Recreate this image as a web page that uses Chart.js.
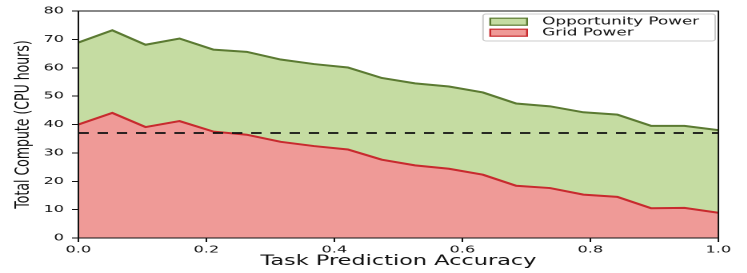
<!DOCTYPE html>
<html>
<head>
<meta charset="utf-8">
<script src="https://cdn.jsdelivr.net/npm/chart.js@4.4.1/dist/chart.umd.min.js"></script>
<style>
  html, body { margin: 0; padding: 0; background: #fff; overflow: hidden; }
  /* the reference is drawn narrow and stretched sideways, so do the same */
  #wrap { position: absolute; left: 0; top: 0; width: 467px; height: 273px; transform: scaleX(1.6); transform-origin: 0 0; }
</style>
</head>
<body>
<div id="wrap"><canvas id="computeChart"></canvas></div>
<script>
// DATA
const accuracy = [0, 0.053, 0.105, 0.158, 0.211, 0.263, 0.316, 0.368, 0.421, 0.474,
  0.526, 0.579, 0.632, 0.684, 0.737, 0.789, 0.842, 0.895, 0.947, 1.0];
const totalCompute = [68.9, 73.2, 68.1, 70.3, 66.4, 65.6, 62.9, 61.3, 60.1, 56.4,
  54.5, 53.4, 51.3, 47.4, 46.4, 44.3, 43.5, 39.5, 39.5, 38.0];
const gridPower = [40.0, 44.1, 39.1, 41.2, 37.5, 36.4, 33.9, 32.4, 31.2, 27.6,
  25.6, 24.4, 22.3, 18.4, 17.6, 15.3, 14.5, 10.5, 10.6, 8.9];
const baselineX = [0, 1];
const baselineY = [37, 37];
const xTicks = [0, 0.2, 0.4, 0.6, 0.8, 1.0];
const yTicks = [0, 10, 20, 30, 40, 50, 60, 70, 80];

Chart.defaults.font.family = "'DejaVu Sans', sans-serif";
Chart.defaults.color = "#111";

const toPoints = (xs, ys) => xs.map((x, i) => ({ x: x, y: ys[i] }));

// frame round the plot area
const frame = {
  id: "frame",
  afterDatasetsDraw(chart) {
    const { ctx, chartArea: a } = chart;
    ctx.save();
    ctx.strokeStyle = "#111";
    ctx.lineWidth = 1;
    ctx.strokeRect(a.left, a.top, a.right - a.left, a.bottom - a.top);
    ctx.restore();
  },
};

// boxed legend in the top right corner
const boxLegend = {
  id: "boxLegend",
  afterDraw(chart) {
    const { ctx, chartArea } = chart;
    const items = chart.data.datasets.filter((ds) => ds.fill !== false);
    ctx.save();
    ctx.font = "10.5px 'DejaVu Sans'";
    const textW = Math.max(...items.map((ds) => ctx.measureText(ds.label).width));
    const w = 37 + textW + 10;
    const h = 27;
    const x = chartArea.right - 2 - w;
    const y = chartArea.top + 3;
    ctx.beginPath();
    ctx.roundRect(x, y, w, h, 2);
    ctx.fillStyle = "rgba(255,255,255,0.85)";
    ctx.fill();
    ctx.strokeStyle = "#cccccc";
    ctx.lineWidth = 1;
    ctx.stroke();
    items.forEach((ds, i) => {
      const cy = y + 7.7 + i * 11;
      ctx.fillStyle = ds.backgroundColor;
      ctx.fillRect(x + 4.5, cy - 3.5, 23, 7);
      ctx.strokeStyle = ds.borderColor;
      ctx.lineWidth = 1.2;
      ctx.strokeRect(x + 4.5, cy - 3.5, 23, 7);
      ctx.fillStyle = "#111";
      ctx.textBaseline = "middle";
      ctx.fillText(ds.label, x + 37, cy);
    });
    ctx.restore();
  },
};

new Chart(document.getElementById("computeChart"), {
  type: "line",
  data: {
    datasets: [
      {
        label: "Baseline",
        data: toPoints(baselineX, baselineY),
        borderColor: "#111",
        borderWidth: 1.8,
        borderDash: [6.5, 5.5],
        fill: false,
      },
      {
        label: "Opportunity Power",
        data: toPoints(accuracy, totalCompute),
        borderColor: "#5b7a32",
        backgroundColor: "#c5dca2",
        borderWidth: 2,
        fill: "+1",
      },
      {
        label: "Grid Power",
        data: toPoints(accuracy, gridPower),
        borderColor: "#c82a2e",
        backgroundColor: "#ef9a97",
        borderWidth: 2,
        fill: "origin",
      },
    ],
  },
  options: {
    responsive: true,
    maintainAspectRatio: false,
    animation: false,
    devicePixelRatio: 2,
    elements: {
      point: { radius: 0 },
      line: { tension: 0 },
    },
    layout: {
      padding: { left: 0, right: 18, top: 10, bottom: 0 },
    },
    plugins: {
      legend: { display: false },
      tooltip: { enabled: false },
      filler: { drawTime: "beforeDatasetsDraw" },
    },
    scales: {
      x: {
        type: "linear",
        min: 0,
        max: 1,
        afterBuildTicks: (scale) => {
          scale.ticks = xTicks.map((v) => ({ value: v }));
        },
        afterFit: (scale) => {
          scale.height = 35;
        },
        ticks: {
          callback: (v) => v.toFixed(1),
          font: { size: 10 },
          padding: 2,
          maxRotation: 0,
        },
        grid: { drawOnChartArea: false, tickLength: 4, color: "#111" },
        border: { display: false },
        title: {
          display: true,
          text: "Task Prediction Accuracy",
          font: { size: 14 },
          padding: { top: 0, bottom: 3 },
        },
      },
      y: {
        min: 0,
        max: 80,
        afterBuildTicks: (scale) => {
          scale.ticks = yTicks.map((v) => ({ value: v }));
        },
        afterFit: (scale) => {
          scale.width = 49;
        },
        ticks: {
          font: { size: 10 },
          padding: 5,
        },
        grid: { drawOnChartArea: false, tickLength: 4, color: "#111" },
        border: { display: false },
        title: {
          display: true,
          text: "Total Compute (CPU hours)",
          font: { size: 12.5 },
          padding: { top: 7, bottom: 0 },
        },
      },
    },
  },
  plugins: [frame, boxLegend],
});
</script>
</body>
</html>
